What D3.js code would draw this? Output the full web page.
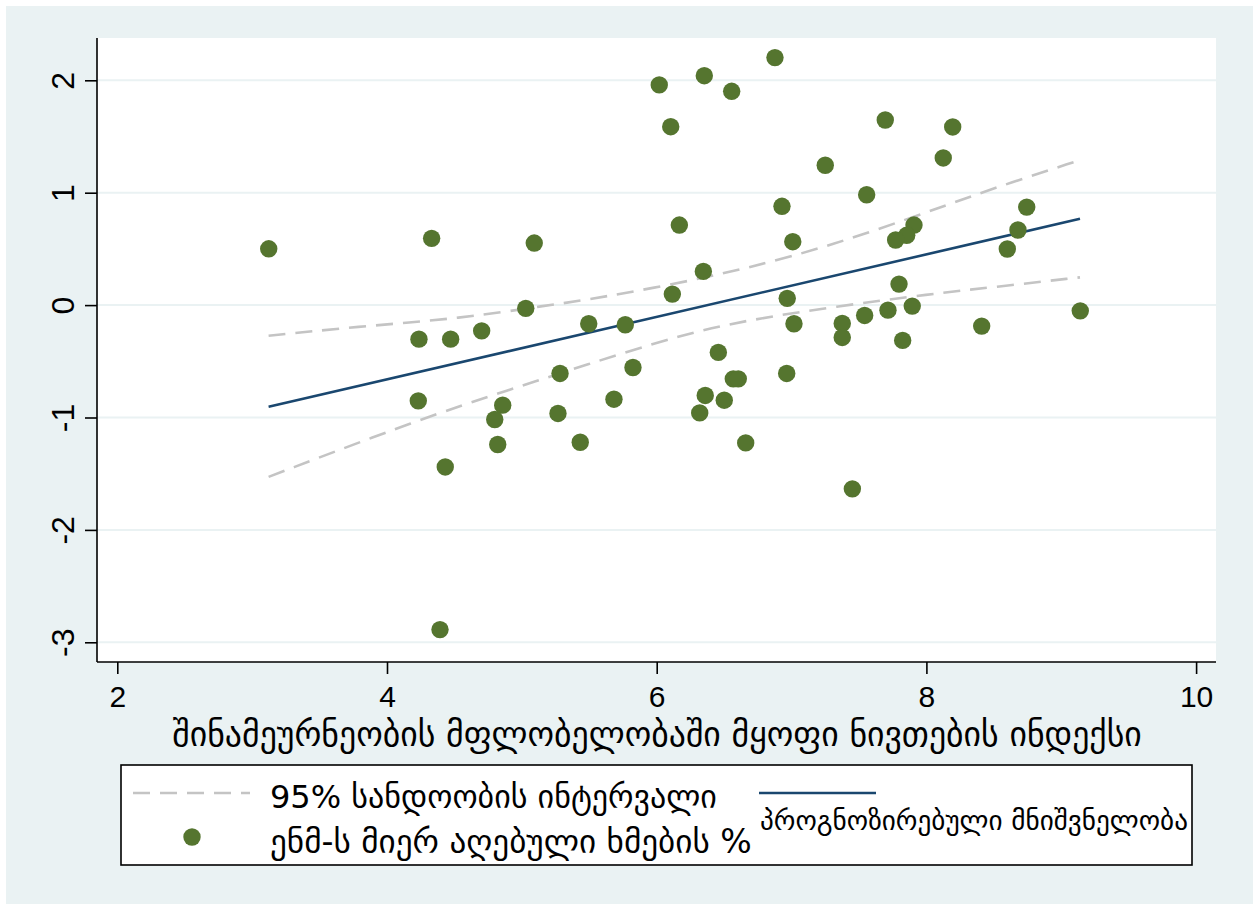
<!DOCTYPE html>
<html>
<head>
<meta charset="utf-8">
<script src="https://cdn.jsdelivr.net/npm/d3@7"></script>
<style>
  html, body { margin: 0; padding: 0; background: #ffffff; }
  svg { display: block; }
</style>
</head>
<body>
<svg id="chart" width="1253" height="904"></svg>
<script>
// ---------------- data ----------------
const xTicks = [2, 4, 6, 8, 10];
const yTicks = [-3, -2, -1, 0, 1, 2];

// scatter: share of votes (standardised) vs. household asset index
const assetIndex = [3.123, 4.331, 4.237, 4.472, 4.702, 5.029, 5.092, 5.496, 5.767, 6.019,
  6.353, 6.556, 6.104, 6.877, 6.168, 6.929, 7.009, 6.346, 6.116, 6.968,
  7.018, 7.250, 7.695, 8.195, 8.125, 7.557, 8.744, 8.679, 7.908, 7.854,
  7.772, 8.600, 7.797, 9.141, 7.715, 7.895, 7.542, 7.376, 7.376, 7.824,
  8.410, 4.232, 5.283, 5.824, 6.457, 6.568, 6.605, 6.964, 4.858, 4.799,
  4.821, 4.432, 5.268, 5.433, 5.683, 6.360, 6.319, 6.501, 6.660, 4.393,
  7.451];
const voteShare = [0.501, 0.594, -0.303, -0.303, -0.229, -0.029, 0.552, -0.166, -0.175, 1.959,
  2.041, 1.902, 1.587, 2.202, 0.712, 0.879, 0.564, 0.300, 0.098, 0.060,
  -0.166, 1.244, 1.647, 1.585, 1.309, 0.982, 0.872, 0.668, 0.712, 0.621,
  0.579, 0.499, 0.187, -0.051, -0.045, -0.009, -0.092, -0.163, -0.288, -0.314,
  -0.187, -0.852, -0.608, -0.555, -0.421, -0.656, -0.656, -0.608, -0.890, -1.018,
  -1.240, -1.440, -0.964, -1.220, -0.837, -0.804, -0.959, -0.846, -1.226, -2.887,
  -1.635];

// fitted (predicted) line
const fitX = [3.122, 9.139];
const fitY = [-0.905, 0.768];

// 95% confidence band
const ciUpperX = [3.122, 3.763, 4.554, 5.196, 5.431, 6.098, 6.667, 7.284, 8.026, 8.521, 9.139];
const ciUpperY = [-0.273, -0.193, -0.119, 0.000, 0.036, 0.178, 0.326, 0.525, 0.835, 1.050, 1.290];
const ciLowerX = [3.122, 4.257, 4.900, 5.468, 6.172, 6.667, 7.347, 8.026, 8.521, 9.139];
const ciLowerY = [-1.528, -1.009, -0.757, -0.534, -0.267, -0.134, -0.009, 0.098, 0.163, 0.247];

const xTitle = "შინამეურნეობის მფლობელობაში მყოფი ნივთების ინდექსი";
const legendCI = "95% სანდოობის ინტერვალი";
const legendPts = "ენმ-ს მიერ აღებული ხმების %";
const legendFit = "პროგნოზირებული მნიშვნელობა";

// ---------------- drawing ----------------
const W = 1253, H = 904;
const svg = d3.select("#chart");
const bg = "#eaf2f3";
const green = "#55752f";
const navy = "#1a476f";
const ciGrey = "#c4c4c4";
const tickFont = "'Liberation Sans', Arial, sans-serif";
const geoFont = "'DejaVu Sans', sans-serif";

const plot = { left: 97, top: 38, right: 1216, bottom: 662 };

svg.append("rect").attr("x", 6).attr("y", 6).attr("width", W - 6).attr("height", H - 6).attr("fill", bg);
svg.append("rect").attr("x", plot.left).attr("y", plot.top)
  .attr("width", plot.right - plot.left).attr("height", plot.bottom - plot.top).attr("fill", "#ffffff");

const x = d3.scaleLinear().domain([2, 10]).range([117.3, 1196.1]);
const y = d3.scaleLinear().domain([-3, 2]).range([642.3, 80.3]);

// grid
svg.append("g").selectAll("line").data(yTicks).join("line")
  .attr("x1", plot.left).attr("x2", plot.right)
  .attr("y1", d => y(d)).attr("y2", d => y(d))
  .attr("stroke", bg).attr("stroke-width", 2);

// CI lines
const lineGen = d3.line().x(d => x(d[0])).y(d => y(d[1])).curve(d3.curveBasis);
const upper = ciUpperX.map((v, i) => [v, ciUpperY[i]]);
const lower = ciLowerX.map((v, i) => [v, ciLowerY[i]]);
[upper, lower].forEach(pts => {
  svg.append("path").attr("d", lineGen(pts)).attr("fill", "none")
    .attr("stroke", ciGrey).attr("stroke-width", 2.6).attr("stroke-dasharray", "17,10");
});

// fitted line
svg.append("path").attr("d", d3.line().x(d => x(d[0])).y(d => y(d[1]))(fitX.map((v, i) => [v, fitY[i]])))
  .attr("fill", "none").attr("stroke", navy).attr("stroke-width", 2.6);

// points
svg.append("g").selectAll("circle").data(assetIndex.map((v, i) => [v, voteShare[i]])).join("circle")
  .attr("cx", d => x(d[0])).attr("cy", d => y(d[1])).attr("r", 8.7)
  .attr("fill", green);

// axes
const yAxis = d3.axisLeft(y).tickValues(yTicks).tickSize(12).tickPadding(11.5).tickFormat(d3.format("d"));
const gy = svg.append("g").attr("transform", `translate(${plot.left},0)`).call(yAxis);
gy.select(".domain").attr("d", `M0,${plot.top}V${plot.bottom}`).attr("stroke", "#000").attr("stroke-width", 1.6);
gy.selectAll(".tick line").attr("stroke", "#000").attr("stroke-width", 1.6);
gy.selectAll(".tick text")
  .attr("font-family", tickFont).attr("font-size", 32).attr("fill", "#000")
  .attr("text-anchor", "middle")
  .attr("x", 0).attr("dy", 0).attr("y", -23.5)
  .attr("transform", "rotate(-90)")
  .text(d => String(d).replace("−", "-"));

const xAxis = d3.axisBottom(x).tickValues(xTicks).tickSize(12).tickPadding(12).tickFormat(d3.format("d"));
const gx = svg.append("g").attr("transform", `translate(0,${plot.bottom})`).call(xAxis);
gx.select(".domain").attr("d", `M${plot.left},0H${plot.right}`).attr("stroke", "#000").attr("stroke-width", 1.6);
gx.selectAll(".tick line").attr("stroke", "#000").attr("stroke-width", 1.6);
gx.selectAll(".tick text")
  .attr("font-family", tickFont).attr("font-size", 30).attr("fill", "#000");

// helper: fit text to width
function fitText(sel, width) {
  const len = sel.node().getComputedTextLength();
  const fs = parseFloat(sel.attr("font-size"));
  sel.attr("font-size", fs * width / len);
  return sel;
}

// x title
const t = svg.append("text").attr("x", 657).attr("y", 746).attr("text-anchor", "middle")
  .attr("font-family", geoFont).attr("font-size", 24).attr("fill", "#000").text(xTitle);
fitText(t, 970);

// legend
const lg = { left: 121, top: 765, right: 1192, bottom: 865 };
svg.append("rect").attr("x", lg.left).attr("y", lg.top).attr("width", lg.right - lg.left)
  .attr("height", lg.bottom - lg.top).attr("fill", "#fff").attr("stroke", "#000").attr("stroke-width", 1.6);

svg.append("line").attr("x1", 133).attr("x2", 250).attr("y1", 793).attr("y2", 793)
  .attr("stroke", ciGrey).attr("stroke-width", 2.6).attr("stroke-dasharray", "17,10");
svg.append("circle").attr("cx", 192).attr("cy", 837).attr("r", 8.7).attr("fill", green);
svg.append("line").attr("x1", 759).attr("x2", 876).attr("y1", 793).attr("y2", 793)
  .attr("stroke", navy).attr("stroke-width", 2.6);

const l1 = svg.append("text").attr("x", 270).attr("y", 808).attr("font-family", geoFont)
  .attr("font-size", 22).attr("fill", "#000").text(legendCI);
fitText(l1, 447);
const l2 = svg.append("text").attr("x", 270).attr("y", 853).attr("font-family", geoFont)
  .attr("font-size", 22).attr("fill", "#000").text(legendPts);
fitText(l2, 482);
const l3 = svg.append("text").attr("x", 760).attr("y", 830).attr("font-family", geoFont)
  .attr("font-size", 20).attr("fill", "#000").text(legendFit);
fitText(l3, 428);
</script>
</body>
</html>
